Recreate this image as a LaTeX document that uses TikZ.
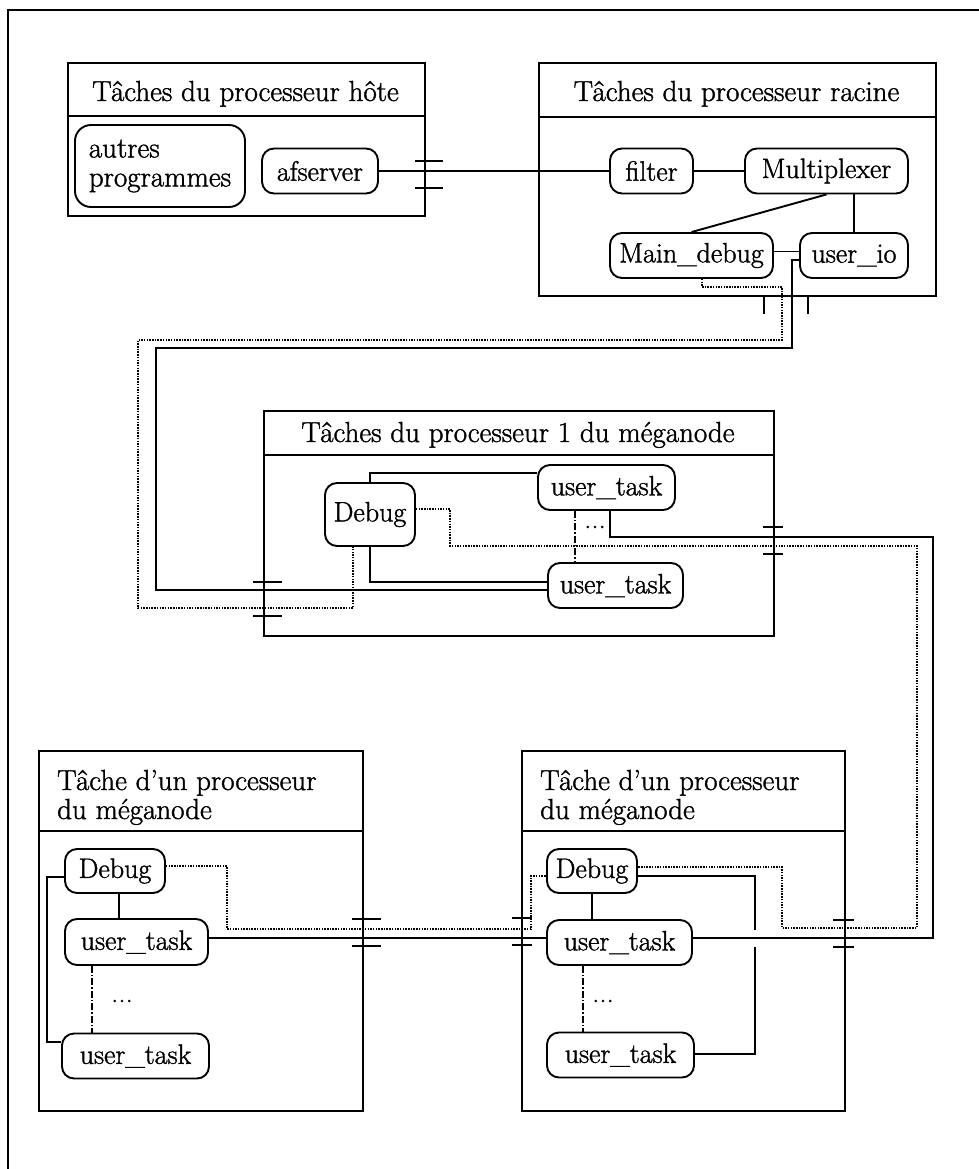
\documentclass[tikz,border=0pt]{standalone}
\usepackage{fontspec}
\setmainfont{Latin Modern Roman}[RawFeature={embolden=1.3}]
\newcommand\myfont{\fontsize{29}{33}\selectfont}
\newcommand\mynodefont{\fontsize{28}{32}\selectfont}
\tikzset{
  task/.style={draw, line width=1.9pt, rounded corners=12pt, inner sep=0pt, font=\mynodefont, minimum height=45pt},
  pbox/.style={draw, line width=1.9pt, inner sep=0pt},
  ttl/.style={font=\myfont, inner sep=0pt},
  conn/.style={line width=1.9pt},
  dotl/.style={line width=1.2pt, dash pattern=on 1.5pt off 1.2pt},
  ddot/.style={line width=1.2pt, dash pattern=on 7pt off 2pt on 1.5pt off 2pt},
  brk/.style={line width=1.7pt},
}
\begin{document}
\begin{tikzpicture}[x=1pt,y=-1pt]
\useasboundingbox (0,0) rectangle (978,1169);
\draw[line width=1.9pt] (990,10) -- (8,10) -- (8,1180);

% process boxes
\node[pbox, anchor=north west, minimum width=357pt, minimum height=153pt] (host) at (67,62) {};
\node[pbox, anchor=north west, minimum width=397pt, minimum height=233pt] (root) at (538,62) {};
\node[pbox, anchor=north west, minimum width=510pt, minimum height=225pt] (mid) at (263,410) {};
\node[pbox, anchor=north west, minimum width=324pt, minimum height=360pt] (bl) at (38,750) {};
\node[pbox, anchor=north west, minimum width=323pt, minimum height=360pt] (br) at (521,750) {};
\draw[conn] ([yshift=-54pt]host.north west) -- ([yshift=-54pt]host.north east);
\draw[conn] ([yshift=-55pt]root.north west) -- ([yshift=-55pt]root.north east);
\draw[conn] ([yshift=-45pt]mid.north west) -- ([yshift=-45pt]mid.north east);
\draw[conn] ([yshift=-81pt]bl.north west) -- ([yshift=-81pt]bl.north east);
\draw[conn] ([yshift=-81pt]br.north west) -- ([yshift=-81pt]br.north east);

% titles
\node[ttl, anchor=base] (thost) at (245.5,101) {Tâches du processeur hôte};
\node[ttl, anchor=base] (troot) at (736.5,101) {Tâches du processeur racine};
\node[ttl, anchor=base] (tmid) at (518,442) {Tâches du processeur 1 du méganode};
\node[ttl, anchor=base west] (tbl1) at (57,790) {Tâche d'un processeur};
\node[ttl, anchor=base west] (tbl2) at (57,819) {du méganode};
\node[ttl, anchor=base west] (tbr1) at (540,790) {Tâche d'un processeur};
\node[ttl, anchor=base west] (tbr2) at (540,819) {du méganode};

% tasks
\node[task, align=left, minimum width=170pt, minimum height=82pt, rounded corners=16pt, font=\fontsize{29}{29}\selectfont] (autres) at (160,166) {autres\\programmes};
\node[task, minimum width=116pt] (afs) at (320,171) {afserver};
\node[task, minimum width=83pt] (filter) at (651.5,171) {filter};
\node[task, minimum width=163pt] (mux) at (826.5,171) {Multiplexer};
\node[task, minimum width=163pt] (mdbg) at (691.5,255.5) {Main\_debug};
\node[task, minimum width=108pt] (uio) at (854,255.5) {user\_io};

\node[task, minimum width=90pt, minimum height=63pt] (dbgM) at (370,514.5) {Debug};
\node[task, minimum width=137pt] (utM1) at (606.5,487.5) {user\_task};
\node[task, minimum width=135pt] (utM2) at (615.5,585.5) {user\_task};
\node[ttl] (dotsM) at (595,527) {...};

\node[task, minimum width=100pt, minimum height=44pt] (dbgL) at (115,871) {Debug};
\node[task, minimum width=143pt, minimum height=46pt] (utL1) at (136.5,942) {user\_task};
\node[task, minimum width=147pt] (utL2) at (135.5,1056) {user\_task};
\node[ttl] (dotsL) at (122,1001) {...};

\node[task, minimum width=90pt, minimum height=44pt] (dbgR) at (592,871) {Debug};
\node[task, minimum width=145pt] (utR1) at (619.5,942.5) {user\_task};
\node[task, minimum width=147pt] (utR2) at (620.5,1055) {user\_task};
\node[ttl] (dotsR) at (603,1001) {...};

% root connectors
\draw[conn] (afs.east) -- (filter.west);
\draw[conn] (filter.east) -- (mux.west);
\draw[conn] (mux.south) -- (mdbg.north);
\draw[conn] (mux.south -| uio.north) -- (uio.north);
\coordinate (e1) at ([yshift=4pt]mdbg.east);
\draw[conn] (e1) -- (e1 -| uio.west);

% long solid: user_io -> middle user_task
\coordinate (f0) at ([yshift=-4.5pt]uio.west);
\coordinate (f1) at (792,348);
\coordinate (f2) at (156,590);
\draw[conn] (f0) -| (f1) -| (f2) -- (f2 -| utM2.west);

% long dotted: Main_debug -> middle Debug
\coordinate (g0) at ([xshift=10.5pt]mdbg.south);
\coordinate (g1) at (782,287);
\coordinate (g2) at (138,340);
\coordinate (g3) at (353,608);
\draw[dotl] (g0) |- (g1) |- (g2) |- (g3) -- (g3 |- dbgM.south);

% middle box
\coordinate (h1) at ([yshift=14.5pt]utM1.west);
\draw[conn] (dbgM.north) |- (h1);
\coordinate (i1) at ([yshift=3.5pt]utM2.west);
\draw[conn] (dbgM.south) |- (i1);
\coordinate (k) at (575,0);
\draw[ddot] (utM1.south -| k) -- (utM2.north -| k);

% dotted: middle Debug -> right Debug
\coordinate (j0) at ([yshift=5.5pt]dbgM.east);
\coordinate (j1) at (450,546);
\coordinate (j2) at (917,928);
\coordinate (j3) at (782,867);
\draw[dotl] (j0) -| (j1) -| (j2) -| (j3) -- (j3 -| dbgR.east);

% solid: middle user_task -> right user_task
\coordinate (l0) at (610,0);
\coordinate (l1) at (933,537);
\coordinate (l2) at ([yshift=4.5pt]utR1.east);
\draw[conn] (utM1.south -| l0) |- (l1) |- (l2);

% bottom left box
\coordinate (m) at (119,0);
\draw[conn] (dbgL.south -| m) -- (utL1.north -| m);
\coordinate (n0) at ([yshift=-6pt]dbgL.west);
\coordinate (n1) at (47,1042);
\draw[conn] (n0) -| (n1) -- (n1 -| utL2.west);
\coordinate (o) at (92,0);
\draw[ddot] (utL1.south -| o) -- (utL2.north -| o);

% links between bottom boxes
\coordinate (p0) at ([yshift=5pt]dbgL.east);
\coordinate (p1) at (227,929);
\coordinate (p2) at (531,876);
\draw[dotl] (p0) -| (p1) -| (p2) -- (p2 -| dbgR.west);
\coordinate (q0) at ([yshift=4pt]utL1.east);
\draw[conn] (q0) -- (q0 -| utR1.west);

% bottom right box
\draw[conn] (dbgR.south) -- (dbgR.south |- utR1.north);
\coordinate (s0) at ([yshift=-5pt]dbgR.east);
\coordinate (s1) at (755,930);
\coordinate (s2) at (755,947);
\coordinate (s3) at ([yshift=1pt]utR2.east);
\draw[conn] (s0) -| (s1);
\draw[conn] (s2) |- (s3);
\coordinate (t) at (583,0);
\draw[ddot] (utR1.south -| t) -- (utR2.north -| t);

% crossing marks
\draw[brk] (415,161) -- (443,161) (415,188) -- (443,188);
\draw[brk] (764,295) -- (764,314) (808,295) -- (808,314);
\draw[brk] (763,527) -- (783,527) (763,554) -- (783,554);
\draw[brk] (253,582) -- (282,582) (253,616) -- (282,616);
\draw[brk] (352,919) -- (381,919) (352,946) -- (381,946);
\draw[brk] (512,918) -- (532,918) (512,945) -- (532,945);
\draw[brk] (833,920) -- (854,920) (833,947) -- (854,947);
\end{tikzpicture}
\end{document}
